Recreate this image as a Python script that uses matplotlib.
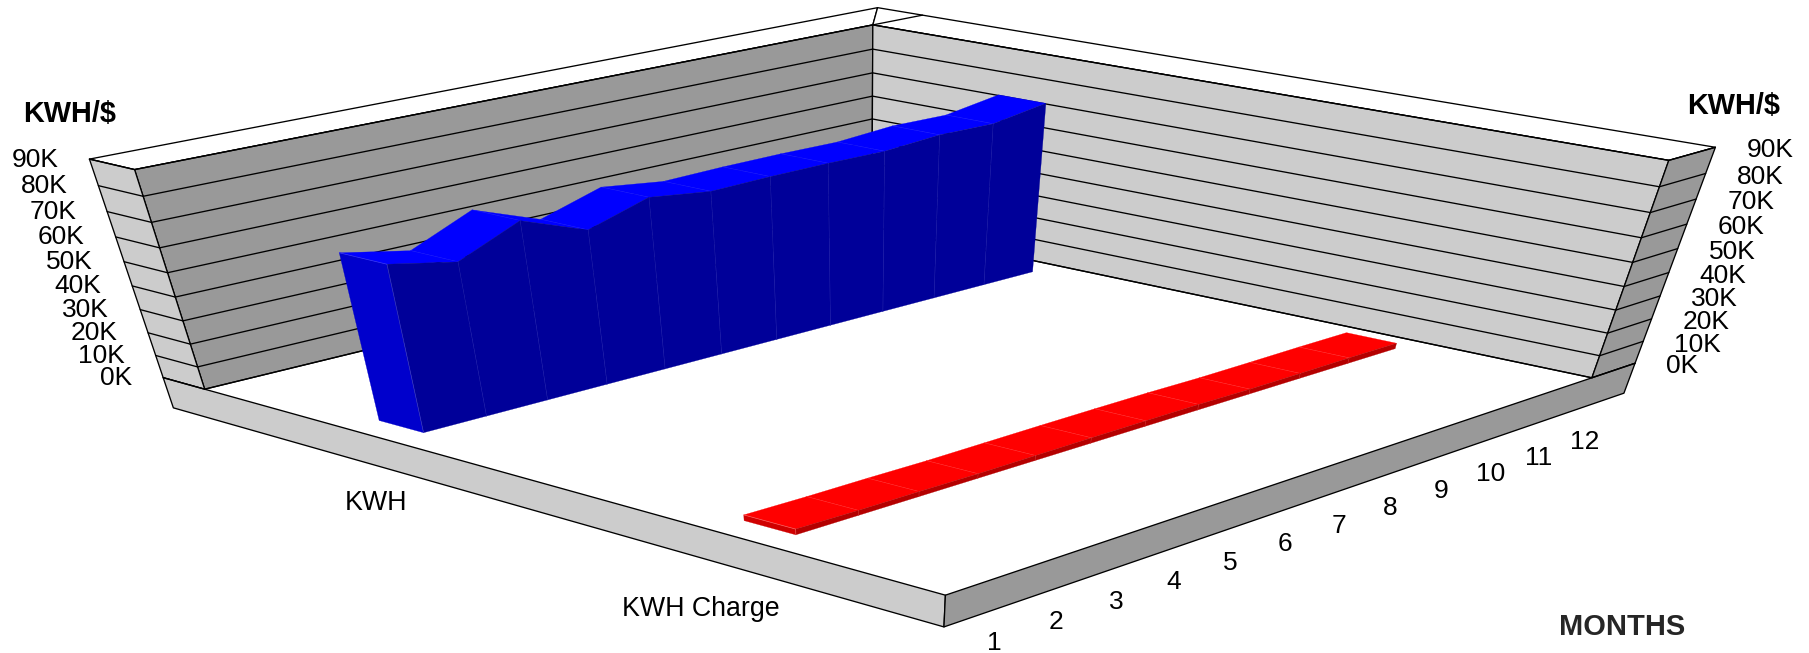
import numpy as np
import matplotlib
matplotlib.use('Agg')
import matplotlib.pyplot as plt
from matplotlib.patches import Polygon

plt.rcParams['font.family'] = ['Liberation Sans', 'DejaVu Sans']

# ---- data ----
months = ['1', '2', '3', '4', '5', '6', '7', '8', '9', '10', '11', '12']
series_names = ['KWH Charge', 'KWH']
kwh = [69600, 64500, 74600, 65300, 72500, 69400, 69900, 70000, 69700, 71300, 70900, 74500]
kwh_charge = [2500, 2200, 2200, 2000, 2200, 2400, 2500, 2500, 2200, 2300, 2500, 2500]
value_ticks = [0, 10000, 20000, 30000, 40000, 50000, 60000, 70000, 80000, 90000]
value_max = 90000

# ---- camera: (months axis, series axis, value axis) in 0..1 -> reference pixels ----
camera_pairs = [((0, 0, 0), (945.4, 595.8)), ((1, 0, 0), (1591.7, 376.7)),
                ((0, 1, 0), (204.3, 388.3)), ((1, 1, 0), (872.3, 228.0)),
                ((0, 1, 1), (135.0, 170.0)), ((1, 1, 1), (872.3, 24.0)),
                ((1, 0, 1), (1669.0, 161.0))]
rows = []
for (X, Y, Z), (px, py) in camera_pairs:
    rows.append([X, Y, Z, 1, 0, 0, 0, 0, -px * X, -px * Y, -px * Z, -px])
    rows.append([0, 0, 0, 0, X, Y, Z, 1, -py * X, -py * Y, -py * Z, -py])
CAM = np.linalg.svd(np.array(rows, float))[2][-1].reshape(3, 4)


def pr(u, v, z):
    w = CAM @ np.array([u, v, z, 1.0])
    return w[:2] / w[2]


WALL_T = 1.066    # outer edge of the left wall on the series axis
WALL_S = 1.080    # outer edge of the right wall on the months axis
BASE = -0.155     # depth of the floor slab
HALF = 0.0325     # half width of a ribbon on the series axis

GRAY_D, GRAY_L = '#999999', '#CCCCCC'
EDGE = {'edgecolor': 'black', 'linewidth': 0.95, 'joinstyle': 'round'}

fig = plt.figure(figsize=(18.09, 6.53), dpi=100, facecolor='white')
ax = fig.add_axes([0, 0, 1, 1])
ax.set_xlim(0, 1809)
ax.set_ylim(653, 0)
ax.axis('off')


def poly(pts, color, **kw):
    ax.add_patch(Polygon([pr(*p) for p in pts], closed=True, facecolor=color, zorder=2, **kw))


def seg(a, b, **kw):
    p, q = pr(*a), pr(*b)
    ax.plot([p[0], q[0]], [p[1], q[1]], solid_capstyle='round', zorder=2, **kw)


def zf(val):
    return val / value_max


T, S = WALL_T, WALL_S
# top caps
poly([(0, T, 1), (S, T, 1), (1, 1, 1), (0, 1, 1)], 'white', **EDGE)
poly([(S, T, 1), (S, 0, 1), (1, 0, 1), (1, 1, 1)], 'white', **EDGE)
seg((1, 1, 1), (S, 1, 1), color='black', lw=0.95)
# walls
poly([(0, 1, 0), (1, 1, 0), (1, 1, 1), (0, 1, 1)], GRAY_D, **EDGE)
poly([(1, 1, 0), (1, 0, 0), (1, 0, 1), (1, 1, 1)], GRAY_L, **EDGE)
# wall ends
poly([(0, T, 0), (0, 1, 0), (0, 1, 1), (0, T, 1)], GRAY_L, **EDGE)
poly([(1, 0, 0), (S, 0, 0), (S, 0, 1), (1, 0, 1)], GRAY_D, **EDGE)
# floor slab
poly([(0, T, BASE), (0, 0, BASE), (0, 0, 0), (0, T, 0)], GRAY_L, **EDGE)
poly([(0, 0, BASE), (S, 0, BASE), (S, 0, 0), (0, 0, 0)], GRAY_D, **EDGE)

# grid lines and value labels
for tick in value_ticks:
    z = zf(tick)
    seg((0, T, z), (0, 1, z), color='black', lw=0.95)
    seg((0, 1, z), (1, 1, z), color='black', lw=0.95)
    seg((1, 1, z), (1, 0, z), color='black', lw=0.95)
    seg((1, 0, z), (S, 0, z), color='black', lw=0.95)
    label = f'{tick // 1000}K'
    p = pr(0, T, z)
    ax.text(p[0] - 31, p[1] + 0.5, label, ha='right', va='center', fontsize=19, color='black', zorder=3)
    p = pr(S, 0, z)
    ax.text(p[0] + 31, p[1] + 3.2, label, ha='left', va='center', fontsize=19, color='black', zorder=3)


def ribbon(values, vc, top, side, front, seam_top, seam_front):
    n = len(values)
    us = [(i + 0.5) / n for i in range(n)]
    zs = [zf(v) for v in values]
    vn, vf = vc - HALF, vc + HALF
    for i in range(n - 2, -1, -1):
        poly([(us[i], vn, zs[i]), (us[i + 1], vn, zs[i + 1]),
              (us[i + 1], vf, zs[i + 1]), (us[i], vf, zs[i])], top, edgecolor=top, linewidth=0.2)
        poly([(us[i], vn, 0), (us[i + 1], vn, 0),
              (us[i + 1], vn, zs[i + 1]), (us[i], vn, zs[i])], front, edgecolor=front, linewidth=0.2)
        if i > 0:
            seg((us[i], vn, 0), (us[i], vn, zs[i]), color=seam_front, lw=0.5)
            seg((us[i], vn, zs[i]), (us[i], vf, zs[i]), color=seam_top, lw=0.5)
    poly([(us[0], vf, 0), (us[0], vn, 0), (us[0], vn, zs[0]), (us[0], vf, zs[0])],
         side, edgecolor=side, linewidth=0.2)
    seg((us[0], vn, 0), (us[0], vn, zs[0]), color=seam_front, lw=0.5)
    seg((us[0], vn, zs[0]), (us[0], vf, zs[0]), color=seam_top, lw=0.5)


ribbon(kwh, 0.75, '#0000FF', '#0000CC', '#000099', '#3636FF', '#3636B8')
ribbon(kwh_charge, 0.25, '#FF0000', '#D00000', '#B40000', '#FF5E5E', '#E05050')

# month labels
for i, m in enumerate(months):
    p = pr((i + 0.5) / len(months), -0.03, BASE)
    frac = i / (len(months) - 1)
    ax.text(p[0] - 6 + 8 * frac, p[1] + 20 + frac, m, ha='center', va='center', fontsize=19, color='black', zorder=3)

# series labels
for name, vc, (dx, dy) in zip(series_names, (0.25, 0.75), ((-16, 33), (22, 31))):
    p = pr(-0.03, vc, BASE)
    ax.text(p[0] + dx, p[1] + dy, name, ha='center', va='center', fontsize=19.3, color='black', zorder=3)

# axis titles
ax.text(23, 114, 'KWH/$', ha='left', va='center', fontsize=20.8, fontweight='bold', zorder=3)
ax.text(1687, 106, 'KWH/$', ha='left', va='center', fontsize=20.8, fontweight='bold', zorder=3)
ax.text(1559, 627, 'MONTHS', ha='left', va='center', fontsize=20.9, fontweight='bold', color='#262626', zorder=3)

fig.savefig('out.png', dpi=100)
